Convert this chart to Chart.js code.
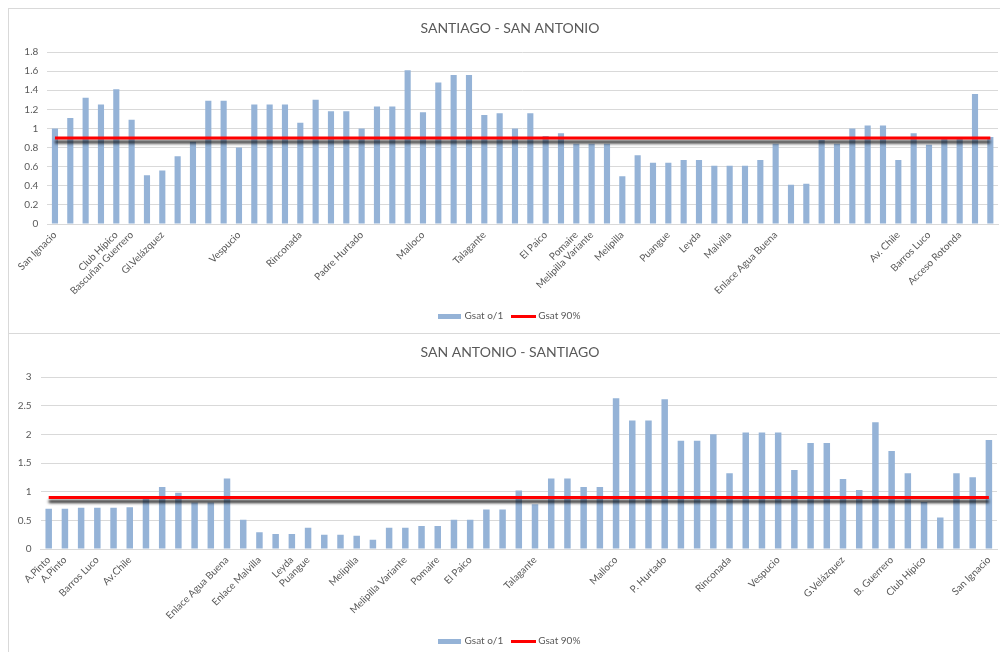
<!DOCTYPE html>
<html>
<head>
<meta charset="utf-8">
<script src="https://cdn.jsdelivr.net/npm/chart.js@4/dist/chart.umd.min.js"></script>
<style>
  html, body { margin: 0; padding: 0; background: #ffffff; overflow: hidden; }
  #page { position: relative; width: 1000px; height: 652px; overflow: hidden; background: #ffffff; }
  .frame { position: absolute; box-sizing: border-box; border: 1px solid #D9D9D9; }
  #frameTop { left: 8px; top: 8px; width: 1100px; height: 326px; }
  #frameBottom { left: 8px; top: 333px; width: 1100px; height: 400px; }
  canvas { position: absolute; }
  #chartTop { left: 12px; top: 8px; }
  #chartBottom { left: 13px; top: 334px; }
</style>
</head>
<body>
<div id="page">
  <div class="frame" id="frameTop"></div>
  <div class="frame" id="frameBottom"></div>
  <canvas id="chartTop" width="996" height="325"></canvas>
  <canvas id="chartBottom" width="994" height="325"></canvas>
</div>
<script>
// ---- Direction 1: Santiago -> San Antonio ----
const outboundTitle = 'SANTIAGO - SAN ANTONIO';
const outboundStops = [
  'San Ignacio', '', '', '', 'Club Hípico', 'Bascuñan Guerrero', '', 'Gl.Velázquez', '', '',
  '', '', 'Vespucio', '', '', '', 'Rinconada', '', '', '',
  'Padre Hurtado', '', '', '', 'Malloco', '', '', '', 'Talagante', '',
  '', '', 'El Paico', '', 'Pomaire', 'Melipilla Variante', '', 'Melipilla', '', '',
  'Puangue', '', 'Leyda', '', 'Malvilla', '', '', 'Enlace Agua Buena', '', '',
  '', '', '', '', '', 'Av. Chile', '', 'Barros Luco', '', 'Acceso Rotonda',
  '', ''
];
const outboundGsat = [
  1.00, 1.11, 1.32, 1.25, 1.41, 1.09, 0.51, 0.56, 0.71, 0.86,
  1.29, 1.29, 0.80, 1.25, 1.25, 1.25, 1.06, 1.30, 1.18, 1.18,
  1.00, 1.23, 1.23, 1.61, 1.17, 1.48, 1.56, 1.56, 1.14, 1.16,
  1.00, 1.16, 0.92, 0.95, 0.84, 0.84, 0.84, 0.50, 0.72, 0.64,
  0.64, 0.67, 0.67, 0.61, 0.61, 0.61, 0.67, 0.84, 0.41, 0.42,
  0.88, 0.84, 1.00, 1.03, 1.03, 0.67, 0.95, 0.83, 0.89, 0.89,
  1.36, 0.91
];
const outboundGsat90 = [
  0.9, 0.9, 0.9, 0.9, 0.9, 0.9, 0.9, 0.9, 0.9, 0.9,
  0.9, 0.9, 0.9, 0.9, 0.9, 0.9, 0.9, 0.9, 0.9, 0.9,
  0.9, 0.9, 0.9, 0.9, 0.9, 0.9, 0.9, 0.9, 0.9, 0.9,
  0.9, 0.9, 0.9, 0.9, 0.9, 0.9, 0.9, 0.9, 0.9, 0.9,
  0.9, 0.9, 0.9, 0.9, 0.9, 0.9, 0.9, 0.9, 0.9, 0.9,
  0.9, 0.9, 0.9, 0.9, 0.9, 0.9, 0.9, 0.9, 0.9, 0.9,
  0.9, 0.9
];
const outboundAxisMax = 1.8;
const outboundAxisStep = 0.2;

// ---- Direction 2: San Antonio -> Santiago ----
const inboundTitle = 'SAN ANTONIO - SANTIAGO';
const inboundStops = [
  'A.Pinto', 'A.Pinto', '', 'Barros Luco', '', 'Av.Chile', '', '', '', '',
  '', 'Enlace Agua Buena', '', 'Enlace Malvilla', '', 'Leyda', 'Puangue', '', '', 'Melipilla',
  '', '', 'Melipilla Variante', '', 'Pomaire', '', 'El Paico', '', '', '',
  'Talagante', '', '', '', '', 'Malloco', '', '', 'P. Hurtado', '',
  '', '', 'Rinconada', '', '', 'Vespucio', '', '', '', 'G.Velázquez',
  '', '', 'B. Guerrero', '', 'Club Hípico', '', '', '', 'San Ignacio'
];
const inboundGsat = [
  0.70, 0.70, 0.72, 0.72, 0.72, 0.73, 0.88, 1.08, 0.98, 0.81,
  0.81, 1.23, 0.51, 0.29, 0.26, 0.26, 0.37, 0.25, 0.25, 0.23,
  0.16, 0.37, 0.37, 0.40, 0.40, 0.51, 0.51, 0.69, 0.69, 1.02,
  0.78, 1.23, 1.23, 1.08, 1.08, 2.63, 2.24, 2.24, 2.61, 1.89,
  1.89, 2.00, 1.32, 2.03, 2.03, 2.03, 1.38, 1.85, 1.85, 1.22,
  1.03, 2.21, 1.71, 1.32, 0.82, 0.55, 1.32, 1.25, 1.90
];
const inboundGsat90 = [
  0.9, 0.9, 0.9, 0.9, 0.9, 0.9, 0.9, 0.9, 0.9, 0.9,
  0.9, 0.9, 0.9, 0.9, 0.9, 0.9, 0.9, 0.9, 0.9, 0.9,
  0.9, 0.9, 0.9, 0.9, 0.9, 0.9, 0.9, 0.9, 0.9, 0.9,
  0.9, 0.9, 0.9, 0.9, 0.9, 0.9, 0.9, 0.9, 0.9, 0.9,
  0.9, 0.9, 0.9, 0.9, 0.9, 0.9, 0.9, 0.9, 0.9, 0.9,
  0.9, 0.9, 0.9, 0.9, 0.9, 0.9, 0.9, 0.9, 0.9
];
const inboundAxisMax = 3;
const inboundAxisStep = 0.5;

const seriesNames = ['Gsat o/1', 'Gsat 90%'];

// ---- styling ----
const FONT = "Lato, 'Open Sans', 'Liberation Sans', sans-serif";
const TEXT_GREY = '#595959';
const GRID_GREY = '#D9D9D9';
const BAR_BLUE = '#95B3D7';
const LINE_RED = '#FF0000';

// small legend keys: flat blue bar swatch and a red line stroke
function makeKey(w, h, color) {
  const c = document.createElement('canvas');
  c.width = w; c.height = h;
  const g = c.getContext('2d');
  g.fillStyle = color;
  g.fillRect(0, 0, w, h);
  return c;
}
const barKey = makeKey(23, 5, BAR_BLUE);
const lineKey = makeKey(25, 3, LINE_RED);

// soft drop shadow under the threshold line
const lineShadow = {
  id: 'lineShadow',
  beforeDatasetDraw(chart, args) {
    if (args.meta.type !== 'line') return;
    const ctx = chart.ctx;
    ctx.save();
    ctx.shadowColor = 'rgba(0,0,0,0.85)';
    ctx.shadowBlur = 3;
    ctx.shadowOffsetX = 0;
    ctx.shadowOffsetY = 4;
  },
  afterDatasetDraw(chart, args) {
    if (args.meta.type !== 'line') return;
    chart.ctx.restore();
  }
};

// axis numbers without trailing zeros: 0, 0.2, 1, 1.2 ...
const plainNumber = (v) => String(Number(Number(v).toFixed(2)));

function buildChart(canvasId, spec) {
  return new Chart(document.getElementById(canvasId), {
    data: {
      labels: spec.categories,
      datasets: [
        {
          type: 'bar',
          label: seriesNames[0],
          data: spec.values,
          backgroundColor: BAR_BLUE,
          borderWidth: 0,
          categoryPercentage: 1,
          barPercentage: 0.4,
          order: 1
        },
        {
          type: 'line',
          label: seriesNames[1],
          data: spec.target,
          borderColor: LINE_RED,
          borderWidth: 3,
          pointRadius: 0,
          fill: false,
          tension: 0,
          order: 0
        }
      ]
    },
    plugins: [lineShadow],
    options: {
      responsive: false,
      animation: false,
      devicePixelRatio: 1,
      layout: { padding: { left: spec.sidePad, right: spec.sidePad, top: 0, bottom: spec.bottomPad } },
      plugins: {
        tooltip: { enabled: false },
        title: {
          display: true,
          text: spec.title,
          color: TEXT_GREY,
          font: { family: FONT, size: 14, weight: 'normal' },
          padding: { top: spec.titleTop, bottom: spec.titleBottom }
        },
        legend: {
          position: 'bottom',
          labels: {
            color: TEXT_GREY,
            font: { family: FONT, size: 10 },
            usePointStyle: true,
            pointStyleWidth: 20,
            boxHeight: 10,
            padding: 10,
            generateLabels: () => [
              { text: seriesNames[0], pointStyle: barKey, fillStyle: BAR_BLUE, strokeStyle: BAR_BLUE, lineWidth: 0, hidden: false, datasetIndex: 0, fontColor: TEXT_GREY },
              { text: seriesNames[1], pointStyle: lineKey, fillStyle: LINE_RED, strokeStyle: LINE_RED, lineWidth: 0, hidden: false, datasetIndex: 1, fontColor: TEXT_GREY }
            ]
          }
        }
      },
      scales: {
        x: {
          grid: { display: false, drawTicks: false },
          border: { display: true, color: GRID_GREY, width: 1 },
          ticks: {
            autoSkip: false,
            minRotation: 45,
            maxRotation: 45,
            padding: 5,
            color: TEXT_GREY,
            font: { family: FONT, size: 10 }
          },
          afterFit(scale) { scale.height = 77; }
        },
        y: {
          min: 0,
          max: spec.max,
          grid: { color: GRID_GREY, lineWidth: 1, drawTicks: false },
          border: { display: false },
          ticks: {
            stepSize: spec.step,
            padding: 9,
            color: TEXT_GREY,
            font: { family: FONT, size: 10 },
            callback: plainNumber
          },
          afterFit(scale) {
            scale.width = spec.yWidth;
            // the axis box is narrow, so let its labels run into the side margin
            scale._computeLabelArea = () => undefined;
          }
        }
      }
    }
  });
}

buildChart('chartTop', {
  title: outboundTitle,
  categories: outboundStops,
  values: outboundGsat,
  target: outboundGsat90,
  max: outboundAxisMax,
  step: outboundAxisStep,
  sidePad: 10,
  bottomPad: 2,
  titleTop: 11.6,
  titleBottom: 15.6,
  yWidth: 25.3
});

buildChart('chartBottom', {
  title: inboundTitle,
  categories: inboundStops,
  values: inboundGsat,
  target: inboundGsat90,
  max: inboundAxisMax,
  step: inboundAxisStep,
  sidePad: 10,
  bottomPad: 3,
  titleTop: 10.1,
  titleBottom: 16.1,
  yWidth: 17.6
});
</script>
</body>
</html>
